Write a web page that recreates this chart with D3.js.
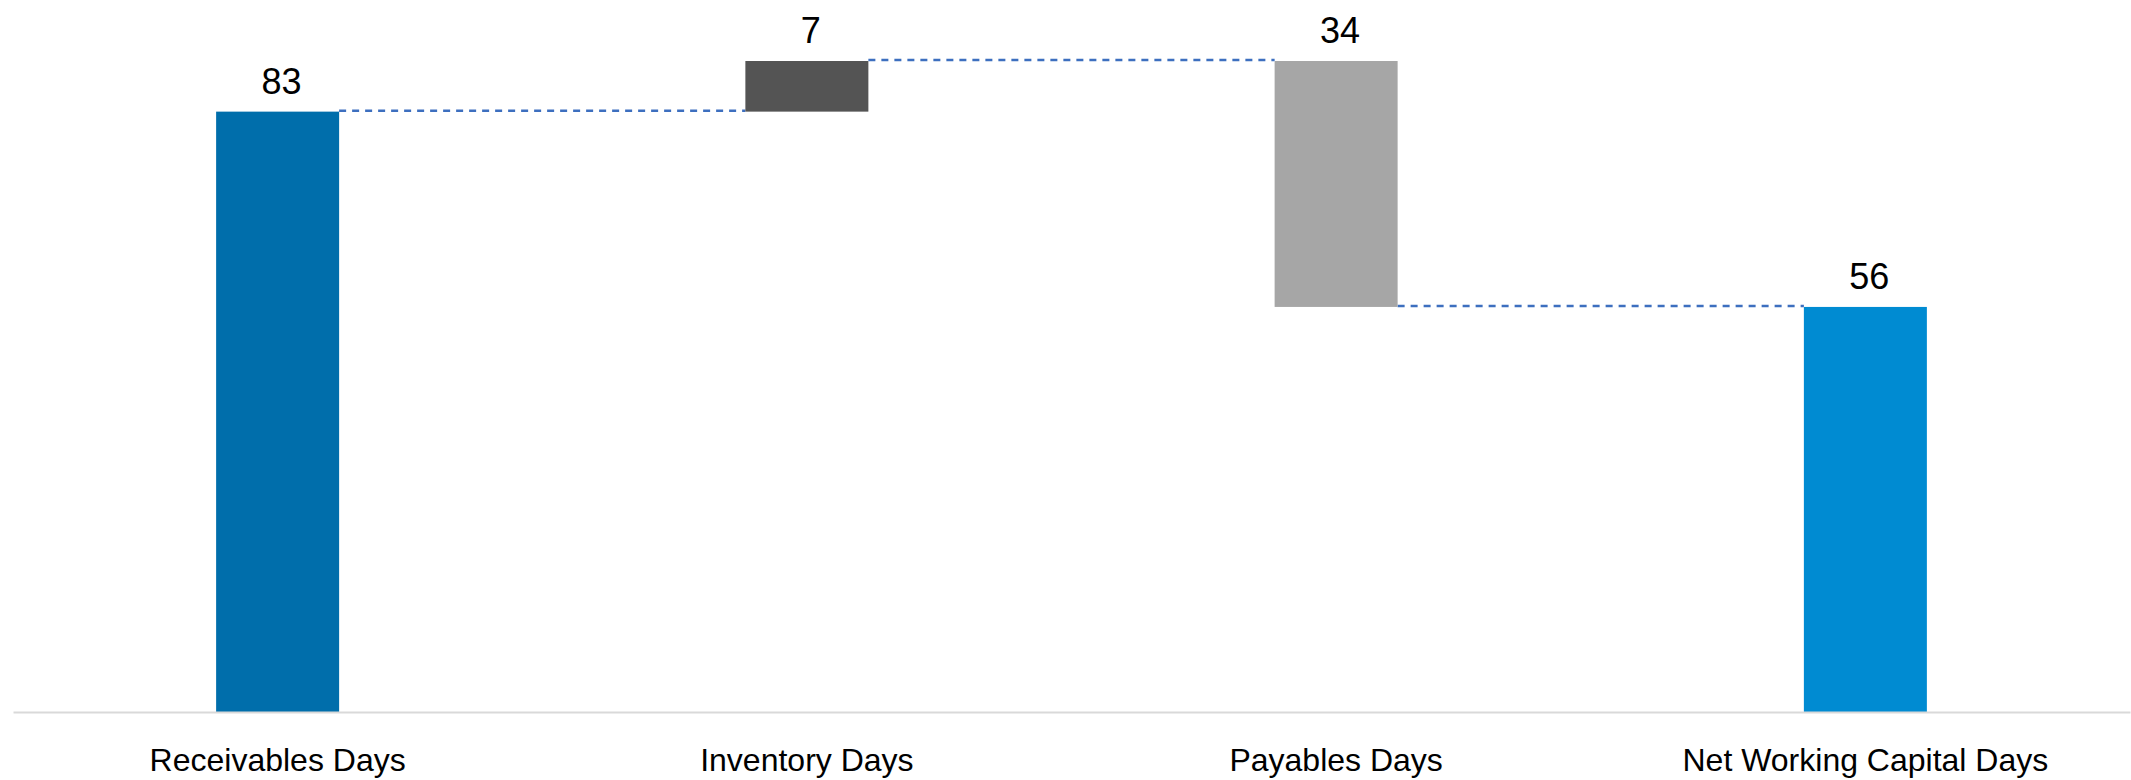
<!DOCTYPE html>
<html>
<head>
<meta charset="utf-8">
<script src="https://cdn.jsdelivr.net/npm/d3@7"></script>
<style>
  html, body { margin: 0; padding: 0; background: #ffffff; }
  svg { display: block; }
  text { font-family: "Liberation Sans", Arial, sans-serif; fill: #000; }
</style>
</head>
<body>
<svg id="chart" width="2131" height="780"></svg>
<script>
// Data
const categories = ["Receivables Days", "Inventory Days", "Payables Days", "Net Working Capital Days"];
const deltas = [83, 7, -34, null];      // null = total bar
const labels = ["83", "7", "34", "56"];
const barColors = ["#006eab", "#545454", "#a6a6a6", "#008bd2"];

// Compute waterfall ranges
let running = 0;
const bars = categories.map((c, i) => {
  let start, end;
  if (deltas[i] === null) { start = 0; end = running; }
  else if (i === 0) { start = 0; end = deltas[i]; running = end; }
  else { start = running; end = running + deltas[i]; running = end; }
  return { cat: c, start, end, label: labels[i], color: barColors[i] };
});

const svg = d3.select("#chart");

const x = d3.scaleBand()
  .domain(categories)
  .range([13, 2130])
  .paddingInner(0.7676)
  .paddingOuter(0.3838);

const y = d3.scaleLinear()
  .domain([0, 90])
  .range([712, 61]);

// Connectors
const conn = svg.append("g");
for (let i = 0; i < bars.length - 1; i++) {
  const lvl = bars[i].end;
  conn.append("line")
    .attr("x1", x(bars[i].cat) + x.bandwidth())
    .attr("x2", x(bars[i + 1].cat))
    .attr("y1", y(lvl) - 1)
    .attr("y2", y(lvl) - 1)
    .attr("stroke", "#3d6fbf")
    .attr("stroke-width", 2.5)
    .attr("stroke-dasharray", "7,6");
}

// Bars
svg.append("g").selectAll("rect")
  .data(bars)
  .join("rect")
  .attr("x", d => x(d.cat))
  .attr("width", x.bandwidth())
  .attr("y", d => y(Math.max(d.start, d.end)))
  .attr("height", d => Math.abs(y(d.start) - y(d.end)))
  .attr("fill", d => d.color);

// Axis
const axis = d3.axisBottom(x).tickSize(0).tickPadding(0);
const gx = svg.append("g").attr("transform", `translate(0,${y(0)})`).call(axis);
gx.select(".domain").attr("stroke", "#d9d9d9").attr("stroke-width", 2);
gx.selectAll(".tick text")
  .attr("y", 59)
  .attr("dy", 0)
  .style("font-family", "'Liberation Sans', Arial, sans-serif")
  .style("font-size", "32px")
  .attr("fill", "#000");

// Value labels
svg.append("g").selectAll("text")
  .data(bars)
  .join("text")
  .attr("x", d => x(d.cat) + x.bandwidth() / 2 + 4)
  .attr("y", d => y(Math.max(d.start, d.end)) - 18)
  .attr("text-anchor", "middle")
  .style("font-size", "36px")
  .text(d => d.label);
</script>
</body>
</html>
